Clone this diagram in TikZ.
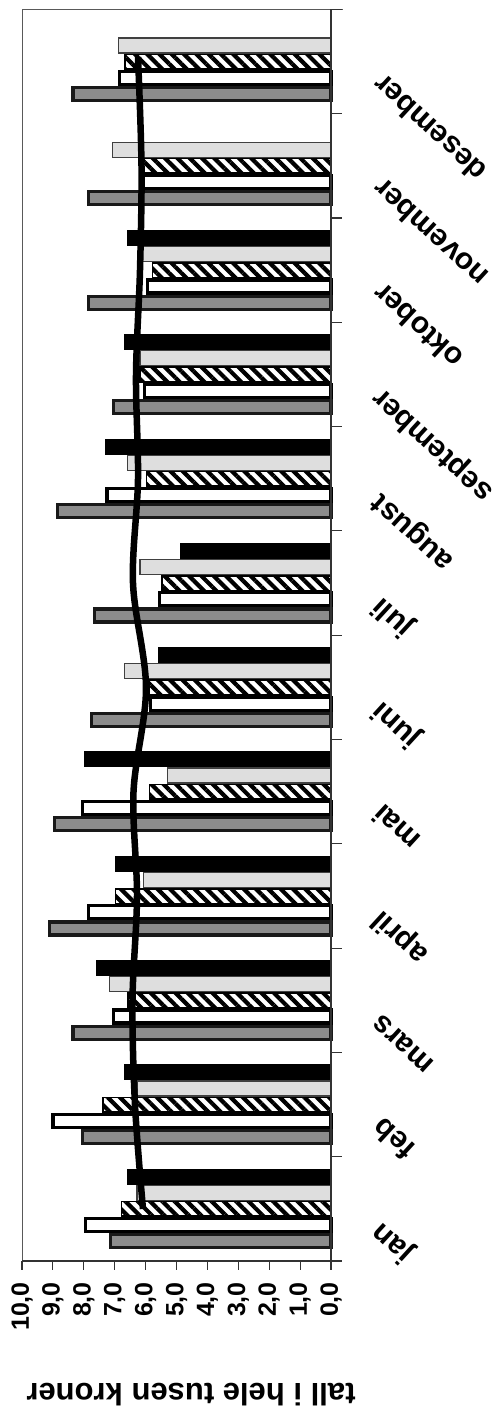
\documentclass[tikz,border=0pt]{standalone}
\usepackage{fontspec}
\setmainfont{Liberation Sans}
\usetikzlibrary{patterns.meta}
\begin{document}
\begin{tikzpicture}[x=1pt,y=-1pt,
  greybar/.style={fill=black!45, draw=black!90, line width=3.2pt},
  whitebar/.style={fill=white, draw=black, line width=3.2pt},
  hatchbar/.style={pattern={Lines[angle=-45,distance=8.7pt,line width=4.2pt]}, draw=black, line width=1.6pt},
  lightbar/.style={fill=black!13, draw=black!75, line width=1.2pt},
  blackbar/.style={fill=black, draw=black, line width=0.8pt},
  frameline/.style={draw=black!65, line width=1pt},
  axisline/.style={draw=black!80, line width=1.1pt},
  avgline/.style={draw=black, line width=6.5pt},
  ticklab/.style={font=\fontsize{25}{30}\selectfont\bfseries, rotate=90, anchor=east, inner sep=0pt},
  monthlab/.style={font=\fontsize{30}{34}\selectfont\bfseries, rotate=137.5, anchor=east, inner sep=0pt},
  titlelab/.style={font=\fontsize{31}{36}\selectfont\bfseries, rotate=180, inner sep=0pt}]
\useasboundingbox (0,0) rectangle (501,1408);
\fill[white] (0,0) rectangle (501,1408);
% frame
\draw[frameline] (22,9) -- (22,1261);
\draw[frameline] (22,9) -- (343,9);
% bars: grey, white, hatched, light, black
\foreach \i/\va/\vb/\vc/\vd in {0/7.2/8.0/6.8/6.3, 1/8.1/9.05/7.4/6.3, 2/8.4/7.1/6.6/7.2, 3/9.15/7.9/7.0/6.1, 4/9.0/8.1/5.9/5.3, 5/7.8/5.9/5.9/6.7, 6/7.7/5.6/5.5/6.2, 7/8.9/7.3/6.0/6.6, 8/7.1/6.1/6.2/6.2, 9/7.9/6.0/5.8/6.2, 10/7.9/6.2/6.2/7.1, 11/8.4/6.9/6.7/6.9}{
  \pgfmathsetmacro\base{1261-104.3*\i-11.6}
  \draw[greybar] ({331-30.9*\va+1.6},{\base-16.2+1.6}) rectangle (331,{\base-1.6});
  \draw[whitebar] ({331-30.9*\vb+1.6},{\base-32.4+1.6}) rectangle (331,{\base-16.2-1.6});
  \draw[hatchbar] ({331-30.9*\vc+0.8},{\base-48.6+0.8}) rectangle (331,{\base-32.4-0.8});
  \draw[lightbar] ({331-30.9*\vd+0.6},{\base-64.8+0.6}) rectangle (331,{\base-48.6-0.6});
}
\foreach \i/\ve in {0/6.6, 1/6.7, 2/7.6, 3/7.0, 4/8.0, 5/5.6, 6/4.9, 7/7.3, 8/6.7, 9/6.6}{
  \pgfmathsetmacro\base{1261-104.3*\i-11.6}
  \draw[blackbar] ({331-30.9*\ve+0.4},{\base-81+0.6}) rectangle (331,{\base-64.8-0.6});
}
% average line
\draw[avgline] plot[smooth, tension=0.55] coordinates {(143,1209) (135,1105) (132.5,1000) (137,896) (133.5,792) (146,688) (133,583) (138,479) (136,375) (140,270) (141.5,166) (138,57)};
% value axis
\draw[axisline] (22,1261) -- (341,1261);
\foreach \k in {0,...,10}{
  \draw[axisline] ({331-30.9*\k},1261) -- ({331-30.9*\k},1270);
  \node[ticklab] (t\k) at ({331-30.9*\k},1282) {\k,0};
}
% category axis
\draw[axisline] (331,9) -- (331,1261);
\foreach \i in {0,...,12}{
  \draw[axisline] (331,{1261-104.3*\i}) -- (342,{1261-104.3*\i});
}
% month labels
\foreach \i/\m in {0/jan, 1/feb, 2/mars, 3/april, 4/mai, 5/juni, 6/juli, 7/august, 8/september, 9/oktober, 10/november, 11/desember}{
  \node[monthlab] (m\i) at (377,{1261-104.3*\i-52.15+19}) {\m};
}
\node[titlelab] (title) at (191,1395) {tall i hele tusen kroner};
\end{tikzpicture}
\end{document}
